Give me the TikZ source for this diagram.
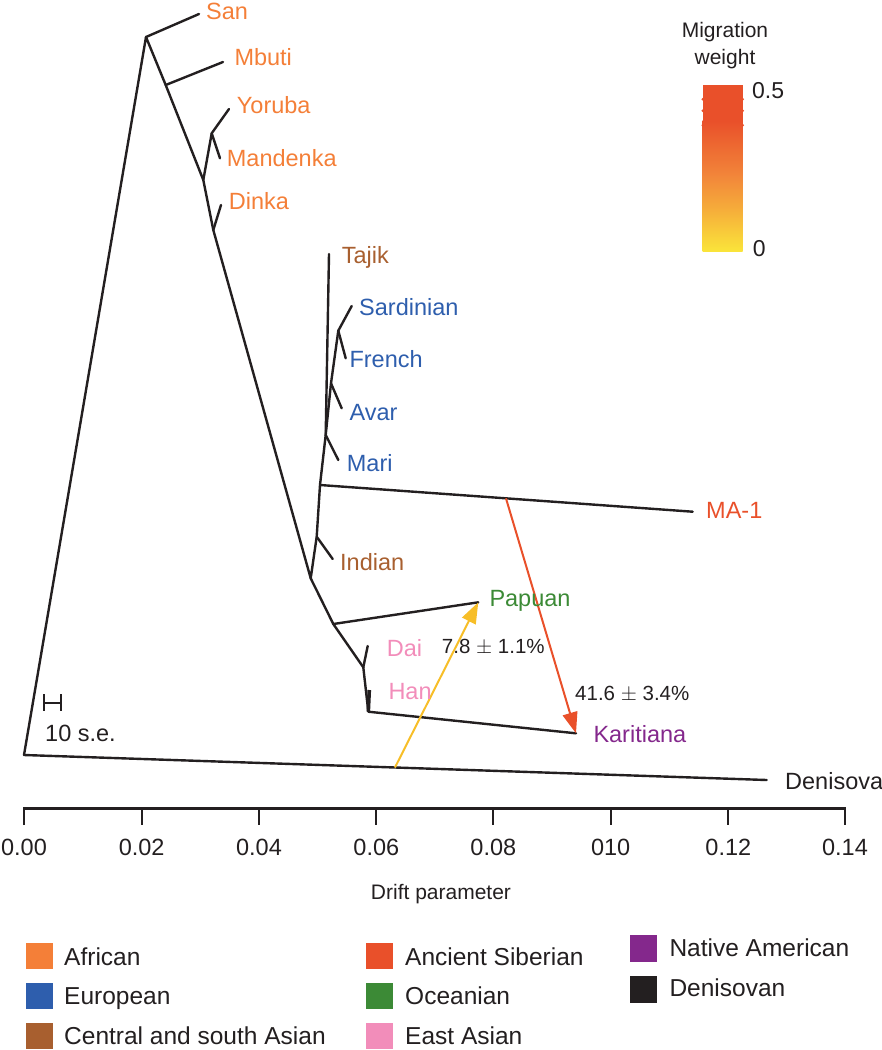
\documentclass[tikz,border=0pt]{standalone}
\usepackage{fontspec}
\setmainfont{Liberation Sans}
\usetikzlibrary{arrows.meta,calc}
\definecolor{afr}{HTML}{F47F38}
\definecolor{eur}{HTML}{2E5EAD}
\definecolor{csa}{HTML}{A85F2F}
\definecolor{sib}{HTML}{E9502A}
\definecolor{oce}{HTML}{3C8A36}
\definecolor{eas}{HTML}{F28DBA}
\definecolor{nam}{HTML}{84288C}
\definecolor{den}{HTML}{231F20}
\definecolor{yel}{HTML}{F7BE28}
\definecolor{barmid}{HTML}{F2863A}
\definecolor{barlow}{HTML}{F6B03A}
\definecolor{barbot}{HTML}{FAE43A}
\begin{document}
\begin{tikzpicture}[x=1pt,y=-1pt,
  branch/.style={line width=2.4pt, line cap=round, line join=round, draw=den},
  lab/.style={anchor=base west, inner sep=0pt, font=\fontsize{23.5}{28}\selectfont},
  note/.style={anchor=base west, inner sep=0pt, font=\fontsize{20.5}{24}\selectfont, text=den},
  ticklab/.style={anchor=base, inner sep=0pt, font=\fontsize{23.5}{28}\selectfont, text=den},
  leg/.style={anchor=base west, inner sep=0pt, font=\fontsize{24.5}{29}\selectfont, text=den},
  swatch/.style={draw=none, minimum width=26.7pt, minimum height=26.5pt, inner sep=0pt, anchor=north west},
  axisline/.style={line width=2.3pt, draw=den},
  mig/.style={line width=2pt, -{Triangle[length=21pt,width=15pt]}}]
\useasboundingbox (0,0) rectangle (882,1050);

% tree coordinates
\coordinate (root) at (24,755);
\coordinate (nA) at (146,37);
\coordinate (tSan) at (199,14);
\coordinate (nMb) at (165.7,85);
\coordinate (tMb) at (223,62);
\coordinate (nYM) at (203.3,180);
\coordinate (nYor) at (211.7,133.3);
\coordinate (tYor) at (229,109);
\coordinate (tMan) at (220,158.3);
\coordinate (nDi) at (213.3,230);
\coordinate (tDi) at (221,205);
\coordinate (nOOA) at (310.7,578.3);
\coordinate (nInd) at (316.7,536.7);
\coordinate (tInd) at (332.7,559);
\coordinate (nMA) at (320,485);
\coordinate (tMA) at (692.7,511.7);
\coordinate (nMari) at (325.7,435);
\coordinate (tMari) at (338.3,460);
\coordinate (tTaj) at (329,254);
\coordinate (nAvar) at (331,383.3);
\coordinate (tAvar) at (341.7,408.3);
\coordinate (nSF) at (338.3,330.7);
\coordinate (tSard) at (351.7,306);
\coordinate (tFr) at (345.7,358.3);
\coordinate (nPap) at (333.3,624);
\coordinate (tPap) at (478.3,602.3);
\coordinate (nEA) at (363.3,667.3);
\coordinate (tDai) at (367.7,646);
\coordinate (nKar) at (368.3,711.7);
\coordinate (tHan) at (369.3,690);
\coordinate (tKar) at (576,733.3);
\coordinate (tDen) at (766.7,780);

% branches
\draw[branch] (root) -- (nA) -- (nMb) -- (nYM) -- (nDi) -- (nOOA) -- (nInd) -- (nMA) -- (nMari) -- (tTaj);
\draw[branch] (root) -- (tDen);
\draw[branch] (nA) -- (tSan);
\draw[branch] (nMb) -- (tMb);
\draw[branch] (nYM) -- (nYor) -- (tYor);
\draw[branch] (nYor) -- (tMan);
\draw[branch] (nDi) -- (tDi);
\draw[branch] (nInd) -- (tInd);
\draw[branch] (nMA) -- (tMA);
\draw[branch] (nMari) -- (tMari);
\draw[branch] (nMari) -- (nAvar) -- (nSF) -- (tSard);
\draw[branch] (nSF) -- (tFr);
\draw[branch] (nAvar) -- (tAvar);
\draw[branch] (nOOA) -- (nPap) -- (nEA) -- (nKar) -- (tKar);
\draw[branch] (nPap) -- (tPap);
\draw[branch] (nEA) -- (tDai);
\draw[branch, line width=3.6pt, line cap=butt] (nKar) -- (tHan);

% migration edges
\coordinate (mSrc) at ($(nMA)!0.499!(tMA)$);
\coordinate (ySrc) at ($(root)!0.4995!(tDen)$);
\draw[mig, draw=sib, fill=sib] (mSrc) -- (tKar);
\draw[mig, draw=yel, fill=yel] (ySrc) -- (tPap);

% labels
\node[lab, text=afr] (lSan) at (206,19) {San};
\node[lab, text=afr] (lMb) at (234.3,65.7) {Mbuti};
\node[lab, text=afr] (lYor) at (236.7,113.3) {Yoruba};
\node[lab, text=afr] (lMan) at (226.7,166.7) {Mandenka};
\node[lab, text=afr] (lDi) at (228.7,209.3) {Dinka};
\node[lab, text=csa] (lTaj) at (341.7,263.3) {Tajik};
\node[lab, text=eur] (lSard) at (359,315) {Sardinian};
\node[lab, text=eur] (lFr) at (349.3,367.3) {French};
\node[lab, text=eur] (lAvar) at (349.3,420.7) {Avar};
\node[lab, text=eur] (lMari) at (346.7,471.7) {Mari};
\node[lab, text=sib] (lMA) at (706,518.3) {MA-1};
\node[lab, text=csa] (lInd) at (340,570) {Indian};
\node[lab, text=oce] (lPap) at (489.3,606.7) {Papuan};
\node[lab, text=eas] (lDai) at (386.7,656.7) {Dai};
\node[lab, text=eas] (lHan) at (388.3,699.3) {Han};
\node[lab, text=nam] (lKar) at (593.3,742.7) {Karitiana};
\node[lab, text=den] (lDen) at (785,789.3) {Denisova};
\node[note] (pYel) at (441.7,653.3) {7.8 $\pm$ 1.1\%};
\node[note] (pRed) at (575,700) {41.6 $\pm$ 3.4\%};

% scale bar
\draw[line width=2.2pt, draw=den] (44.3,694) -- (44.3,710.7) (44.3,702.7) -- (61,702.7) (61,694) -- (61,710.7);
\node[lab, text=den] (lSE) at (45,741) {10 s.e.};

% axis
\draw[axisline] (24,825) -- (24,808.5) -- (845,808.5) -- (845,825);
\foreach \x/\t [count=\i] in {24/0.00, 141.7/0.02, 259/0.04, 376.3/0.06, 493.3/0.08, 610.7/010, 728.3/0.12, 845/0.14} {
  \draw[axisline] (\x,808.5) -- (\x,825);
  \node[ticklab] (tick\i) at (\x,855) {\t};
}
\node[anchor=base, inner sep=0pt, font=\fontsize{21}{25}\selectfont, text=den] (xlab) at (441,899) {Drift parameter};

% colour bar
\node[anchor=base, inner sep=0pt, font=\fontsize{21}{25}\selectfont, text=den] (cbt1) at (725,37) {Migration};
\node[anchor=base, inner sep=0pt, font=\fontsize{21}{25}\selectfont, text=den] (cbt2) at (725,64) {weight};
\fill[sib] (702.7,85) rectangle (742.7,121);
\shade[top color=sib, bottom color=barmid] (702.7,120.5) rectangle (742.7,176);
\shade[top color=barmid, bottom color=barlow] (702.7,175.5) rectangle (742.7,212);
\shade[top color=barlow, bottom color=barbot] (702.7,211.5) rectangle (742.7,251);
\foreach \y in {99.3,110.7,125.3} {
  \fill[sib] (702.7,\y) circle (1.4);
  \fill[sib] (742.7,\y) circle (1.4);
}
\node[anchor=base west, inner sep=0pt, font=\fontsize{23}{27}\selectfont, text=den] (cbHi) at (752,98.3) {0.5};
\node[anchor=base west, inner sep=0pt, font=\fontsize{23}{27}\selectfont, text=den] (cbLo) at (752.7,256.7) {0};

% legend
\node[swatch, fill=afr] (sAfr) at (26,942.3) {};
\node[leg] (gAfr) at (64,965) {African};
\node[swatch, fill=eur] (sEur) at (26,982.3) {};
\node[leg] (gEur) at (64,1004) {European};
\node[swatch, fill=csa] (sCsa) at (26,1022.7) {};
\node[leg] (gCsa) at (64,1044) {Central and south Asian};
\node[swatch, fill=sib] (sSib) at (366,942.3) {};
\node[leg] (gSib) at (405,965) {Ancient Siberian};
\node[swatch, fill=oce] (sOce) at (366,982.3) {};
\node[leg] (gOce) at (405,1004) {Oceanian};
\node[swatch, fill=eas] (sEas) at (366,1022.7) {};
\node[leg] (gEas) at (405,1044) {East Asian};
\node[swatch, fill=nam] (sNam) at (630,935) {};
\node[leg] (gNam) at (669.3,956.7) {Native American};
\node[swatch, fill=den] (sDen) at (630,976) {};
\node[leg] (gDen) at (669.3,996.7) {Denisovan};
\end{tikzpicture}
\end{document}
